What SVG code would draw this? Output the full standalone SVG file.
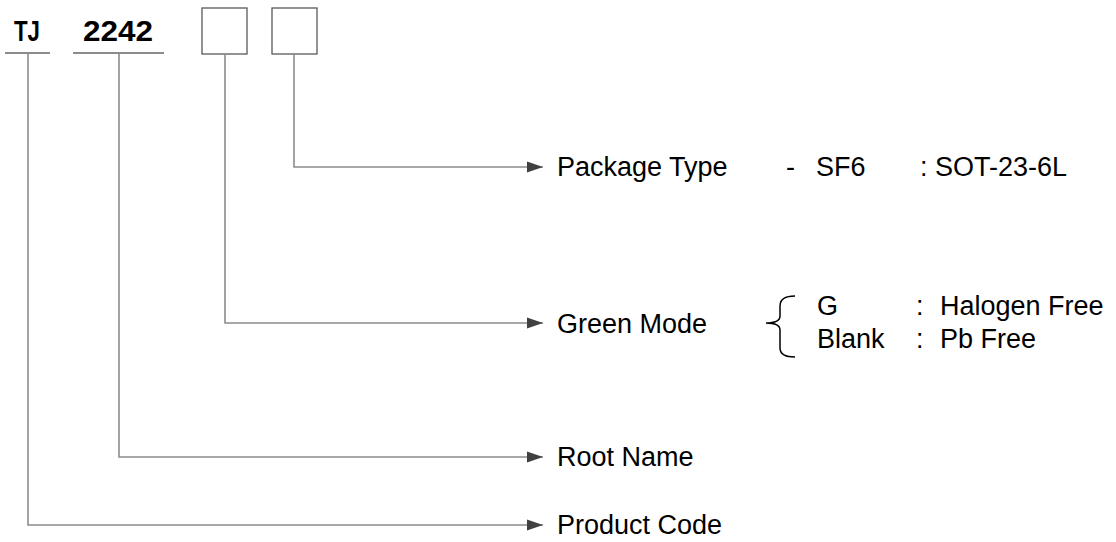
<svg xmlns="http://www.w3.org/2000/svg" width="1116" height="542" viewBox="0 0 1116 542">
<style>
.t{font-family:"Liberation Sans",Arial,sans-serif;font-size:27px;fill:#000}
.b{font-family:"Liberation Sans",Arial,sans-serif;font-size:30px;font-weight:bold;fill:#000}
.ln{stroke:#8c8c8c;stroke-width:1.6;fill:none}
.ul{stroke:#8c8c8c;stroke-width:2;fill:none}
.box{stroke:#595959;stroke-width:1.3;fill:#fff}
</style>
<defs>
<marker id="ah" markerUnits="userSpaceOnUse" markerWidth="18" markerHeight="14" refX="16" refY="7" orient="auto">
<path d="M0,1.5 L16,7 L0,12.5 Z" fill="#404040"/>
</marker>
</defs>
<rect width="1116" height="542" fill="#fff"/>
<g id="code-tj">
<text class="b" x="14" y="41" textLength="26" lengthAdjust="spacingAndGlyphs">TJ</text>
<line class="ul" x1="5" y1="53" x2="50" y2="53"/>
</g>
<g id="code-2242">
<text class="b" x="83" y="41" textLength="70" lengthAdjust="spacingAndGlyphs">2242</text>
<line class="ul" x1="73" y1="53" x2="164" y2="53"/>
</g>
<g id="box-green">
<rect class="box" x="202" y="8" width="45" height="46"/>
</g>
<g id="box-package">
<rect class="box" x="272" y="8" width="45" height="46"/>
</g>
<g id="connectors">
<polyline class="ln" points="294,54 294,167 543,167" marker-end="url(#ah)"/>
<polyline class="ln" points="225,54 225,323 543,323" marker-end="url(#ah)"/>
<polyline class="ln" points="119,53 119,457 543,457" marker-end="url(#ah)"/>
<polyline class="ln" points="28,53 28,525 543,525" marker-end="url(#ah)"/>
</g>
<g id="package-type">
<text class="t" x="557" y="176">Package Type</text>
<text class="t" x="786" y="176">-</text>
<text class="t" x="816" y="176">SF6</text>
<text class="t" x="920" y="176">:</text>
<text class="t" x="935" y="176">SOT-23-6L</text>
</g>
<g id="green-mode">
<text class="t" x="557" y="333">Green Mode</text>
<path d="M795,296 Q780,296 780,306 L780,316 Q780,323 766,323 Q780,323 780,330 L780,348 Q780,357 795,357" fill="none" stroke="#000" stroke-width="1.5"/>
<text class="t" x="817" y="315">G</text>
<text class="t" x="916" y="315">:</text>
<text class="t" x="940" y="315">Halogen Free</text>
<text class="t" x="817" y="348">Blank</text>
<text class="t" x="916" y="348">:</text>
<text class="t" x="940" y="348">Pb Free</text>
</g>
<g id="root-name">
<text class="t" x="557" y="466">Root Name</text>
</g>
<g id="product-code">
<text class="t" x="557" y="534">Product Code</text>
</g>
</svg>
